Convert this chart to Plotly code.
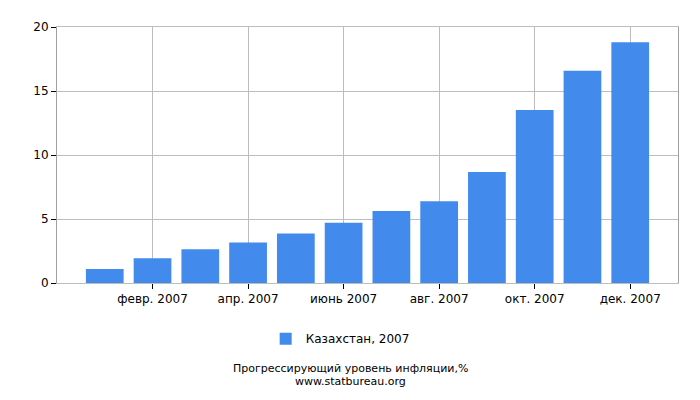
import plotly.graph_objects as go

# ── data ──────────────────────────────────────────────────────────────────────
months = ["янв. 2007", "февр. 2007", "март 2007", "апр. 2007", "май 2007", "июнь 2007",
          "июль 2007", "авг. 2007", "сент. 2007", "окт. 2007", "нояб. 2007", "дек. 2007"]
inflation = [1.1, 1.94, 2.63, 3.17, 3.86, 4.70, 5.62, 6.39, 8.68, 13.51, 16.58, 18.80]
tick_labels = ["февр. 2007", "апр. 2007", "июнь 2007", "авг. 2007", "окт. 2007", "дек. 2007"]
y_ticks = [0, 5, 10, 15, 20]
title_lines = ["Прогрессирующий уровень инфляции,%", "www.statbureau.org"]

_C_BAR = "#428bed"
_C_GRID = "#bdbdbd"
_FONT = "DejaVu Sans"

fig = go.Figure()
fig.add_trace(go.Bar(
    x=months, y=inflation,
    marker=dict(color=_C_BAR, line=dict(width=0)),
    name="Казахстан, 2007",
    showlegend=True,
))

# page body adds 8px offset, so the figure is a bit smaller than the window
fig.update_layout(
    width=692, height=392,
    margin=dict(l=49, r=22, t=14, b=117),
    plot_bgcolor="white", paper_bgcolor="white",
    font=dict(family=_FONT, size=12, color="#000000"),
    bargap=0.21,
    showlegend=True,
    legend=dict(orientation="h", x=0.456, xanchor="center", y=-0.218, yanchor="middle",
                font=dict(size=12)),
)

for i, line in enumerate(title_lines):
    fig.add_annotation(
        text=line, xref="paper", yref="paper",
        x=0.472, y=-0.333 - 0.05 * i,
        xanchor="center", yanchor="middle",
        showarrow=False, borderpad=0, font=dict(size=11),
    )

fig.update_xaxes(
    type="category",
    range=[-1, 12],
    tickmode="array", tickvals=tick_labels, ticktext=tick_labels,
    ticks="outside", ticklen=5, tickcolor="#000000",
    showgrid=True, gridcolor=_C_GRID, gridwidth=1,
    showline=True, linecolor=_C_GRID, mirror=True,
    tickfont=dict(size=12),
)
fig.update_yaxes(
    range=[0, 20],
    tickvals=y_ticks,
    ticks="outside", ticklen=5, tickcolor="#000000",
    showgrid=True, gridcolor=_C_GRID, gridwidth=1,
    showline=True, linecolor="#a0a0a0", mirror=True,
    zeroline=False,
    tickfont=dict(size=12),
)

fig.write_html("out.html")
